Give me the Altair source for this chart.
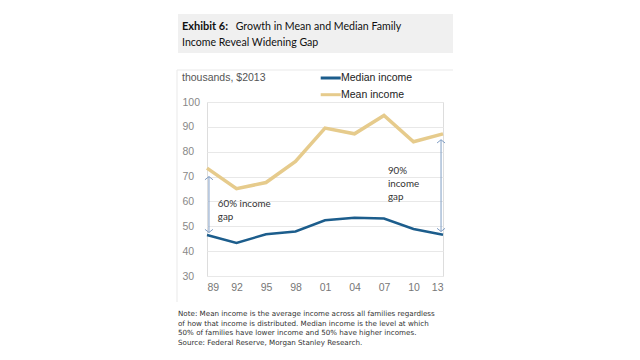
import altair as alt
import pandas as pd

# ---- data ----
years = [1989, 1992, 1995, 1998, 2001, 2004, 2007, 2010, 2013]
median_income = [46.5, 43.3, 46.8, 47.9, 52.4, 53.4, 53.1, 48.9, 46.6]
mean_income = [73.4, 65.1, 67.6, 76.1, 89.5, 87.2, 94.6, 84.0, 87.2]
series_names = ["Median income", "Mean income"]
series_colors = ["#1c5d8c", "#e6cb8c"]
y_ticks = [30, 40, 50, 60, 70, 80, 90, 100]

title_bold = "Exhibit 6:"
title_line1 = "Growth in Mean and Median Family"
title_line2 = "Income Reveal Widening Gap"
y_unit = "thousands, $2013"
note_lines = [
    "Note: Mean income is the average income across all families regardless",
    "of how that income is distributed. Median income is the level at which",
    "50% of families have lower income and 50% have higher incomes.",
    "Source: Federal Reserve, Morgan Stanley Research.",
]

# gap arrows (year, bottom, top)
arrow_x = [1989.2, 2012.8]
arrow_lo = [47.5, 47.9]
arrow_hi = [70.0, 84.8]

# annotation lines
ann_text = ["60% income", "gap", "90%", "income", "gap"]
ann_x = [1990.1, 1990.1, 2007.4, 2007.4, 2007.4]
ann_y = [58.9, 53.6, 72.3, 66.9, 61.8]

# ---- tables ----
rows = []
for yr, m in zip(years, median_income):
    rows.append({"year": yr, "value": m, "series": "Median income"})
for yr, m in zip(years, mean_income):
    rows.append({"year": yr, "value": m, "series": "Mean income"})
df = pd.DataFrame(rows)

arrows = pd.DataFrame({"x": arrow_x, "lo": arrow_lo, "hi": arrow_hi})
ann = pd.DataFrame({"x": ann_x, "y": ann_y, "t": ann_text})
notes = pd.DataFrame({"t": note_lines, "i": list(range(len(note_lines)))})
legend_df = pd.DataFrame({"series": series_names, "i": list(range(len(series_names)))})

W, H = 236, 174
ui_font = "Liberation Sans"
title_font = "Lato"
arrow_col = "#7f9dc4"

xscale = alt.Scale(domain=[1989, 2013], nice=False, zero=False)
yscale = alt.Scale(domain=[30, 100], nice=False, zero=False)
cscale = alt.Scale(domain=series_names, range=series_colors)
xaxis = alt.Axis(values=years, labelExpr="slice(toString(datum.value), 2)",
                 title=None, grid=False, domain=False, ticks=False,
                 labelOverlap=False, labelPadding=6, labelColor="#777",
                 labelFontSize=10.5, labelFont=ui_font)
yaxis = alt.Axis(values=y_ticks, title=None, domain=False, ticks=False,
                 gridColor="#e8e8e8", gridWidth=1, labelAlign="left",
                 labelOverlap=False, labelPadding=25, labelColor="#888",
                 labelFontSize=10.5, labelFont=ui_font)


def X(f):
    return alt.X(f, scale=xscale, axis=xaxis)


def Y(f):
    return alt.Y(f, scale=yscale, axis=yaxis)


lines = alt.Chart(df).mark_line().encode(
    x=X("year:Q"),
    y=Y("value:Q"),
    color=alt.Color("series:N", scale=cscale, legend=None),
    strokeWidth=alt.StrokeWidth("series:N",
                                scale=alt.Scale(domain=series_names, range=[2.5, 3.5]),
                                legend=None),
)

shafts = alt.Chart(arrows).mark_rule(color=arrow_col, strokeWidth=1).encode(
    x=X("x:Q"), y=Y("lo:Q"), y2="hi:Q")
heads_up = alt.Chart(arrows).mark_point(
    shape="M-1,0.8L0,0L1,0.8", filled=False, color=arrow_col, size=64,
    strokeWidth=1, opacity=1).encode(x=X("x:Q"), y=Y("hi:Q"))
heads_dn = alt.Chart(arrows).mark_point(
    shape="M-1,-0.8L0,0L1,-0.8", filled=False, color=arrow_col, size=64,
    strokeWidth=1, opacity=1).encode(x=X("x:Q"), y=Y("lo:Q"))

ann_layer = alt.Chart(ann).mark_text(
    align="left", baseline="middle", font="Lato", fontSize=9.8,
    color="#333").encode(x=X("x:Q"), y=Y("y:Q"), text="t:N")

# legend (drawn as marks, pixel rows)
leg_base = alt.Chart(legend_df).transform_calculate(py="-24 + datum.i * 16.7")
leg_lines = leg_base.mark_rule(strokeWidth=3).encode(
    x=alt.value(113.7), x2=alt.value(133.7),
    y=alt.Y("py:Q", scale=None),
    color=alt.Color("series:N", scale=cscale, legend=None))
leg_text = leg_base.mark_text(
    align="left", baseline="middle", font=ui_font, fontSize=10.5,
    color="#222").encode(
    x=alt.value(134), y=alt.Y("py:Q", scale=None), text="series:N")

one = alt.Data(values=[{}])
frame_top = alt.Chart(one).mark_rule(color="#e9e9e9").encode(
    x=alt.value(-30), x2=alt.value(246), y=alt.value(-32))
frame_left = alt.Chart(one).mark_rule(color="#e9e9e9").encode(
    x=alt.value(-30), y=alt.value(-32), y2=alt.value(200))
title_box = alt.Chart(one).mark_rect(color="#f0f0f0").encode(
    x=alt.value(-29), x2=alt.value(246), y=alt.value(-88), y2=alt.value(-49))
t_bold = alt.Chart(one).mark_text(
    align="left", baseline="middle", font=title_font, fontSize=11,
    fontWeight="bold", color="#111", text=title_bold).encode(
    x=alt.value(-25), y=alt.value(-75))
t_l1 = alt.Chart(one).mark_text(
    align="left", baseline="middle", font=title_font, fontSize=10.6,
    color="#111", text=title_line1).encode(
    x=alt.value(28.7), y=alt.value(-75))
t_l2 = alt.Chart(one).mark_text(
    align="left", baseline="middle", font=title_font, fontSize=10.6,
    color="#111", text=title_line2).encode(
    x=alt.value(-25), y=alt.value(-59.5))
unit = alt.Chart(one).mark_text(
    align="left", baseline="middle", font=ui_font, fontSize=10.5,
    color="#555", text=y_unit).encode(
    x=alt.value(-25), y=alt.value(-24))
note_layer = alt.Chart(notes).transform_calculate(
    py="212.3 + datum.i * 9.45").mark_text(
    align="left", baseline="middle", font="DejaVu Sans", fontSize=7.15,
    color="#333").encode(
    x=alt.value(-29), y=alt.Y("py:Q", scale=None), text="t:N")

chart = alt.layer(
    title_box, frame_top, frame_left, lines, shafts, heads_up, heads_dn,
    ann_layer, leg_lines, leg_text, t_bold, t_l1, t_l2, unit, note_layer
).properties(
    width=W, height=H,
    autosize=alt.AutoSizeParams(type="none"),
    padding={"left": 199, "top": 94, "right": 189, "bottom": 76},
).configure_view(stroke=None).configure(background="white")

chart.save("out.html", embed_options={"renderer": "svg", "actions": False})
